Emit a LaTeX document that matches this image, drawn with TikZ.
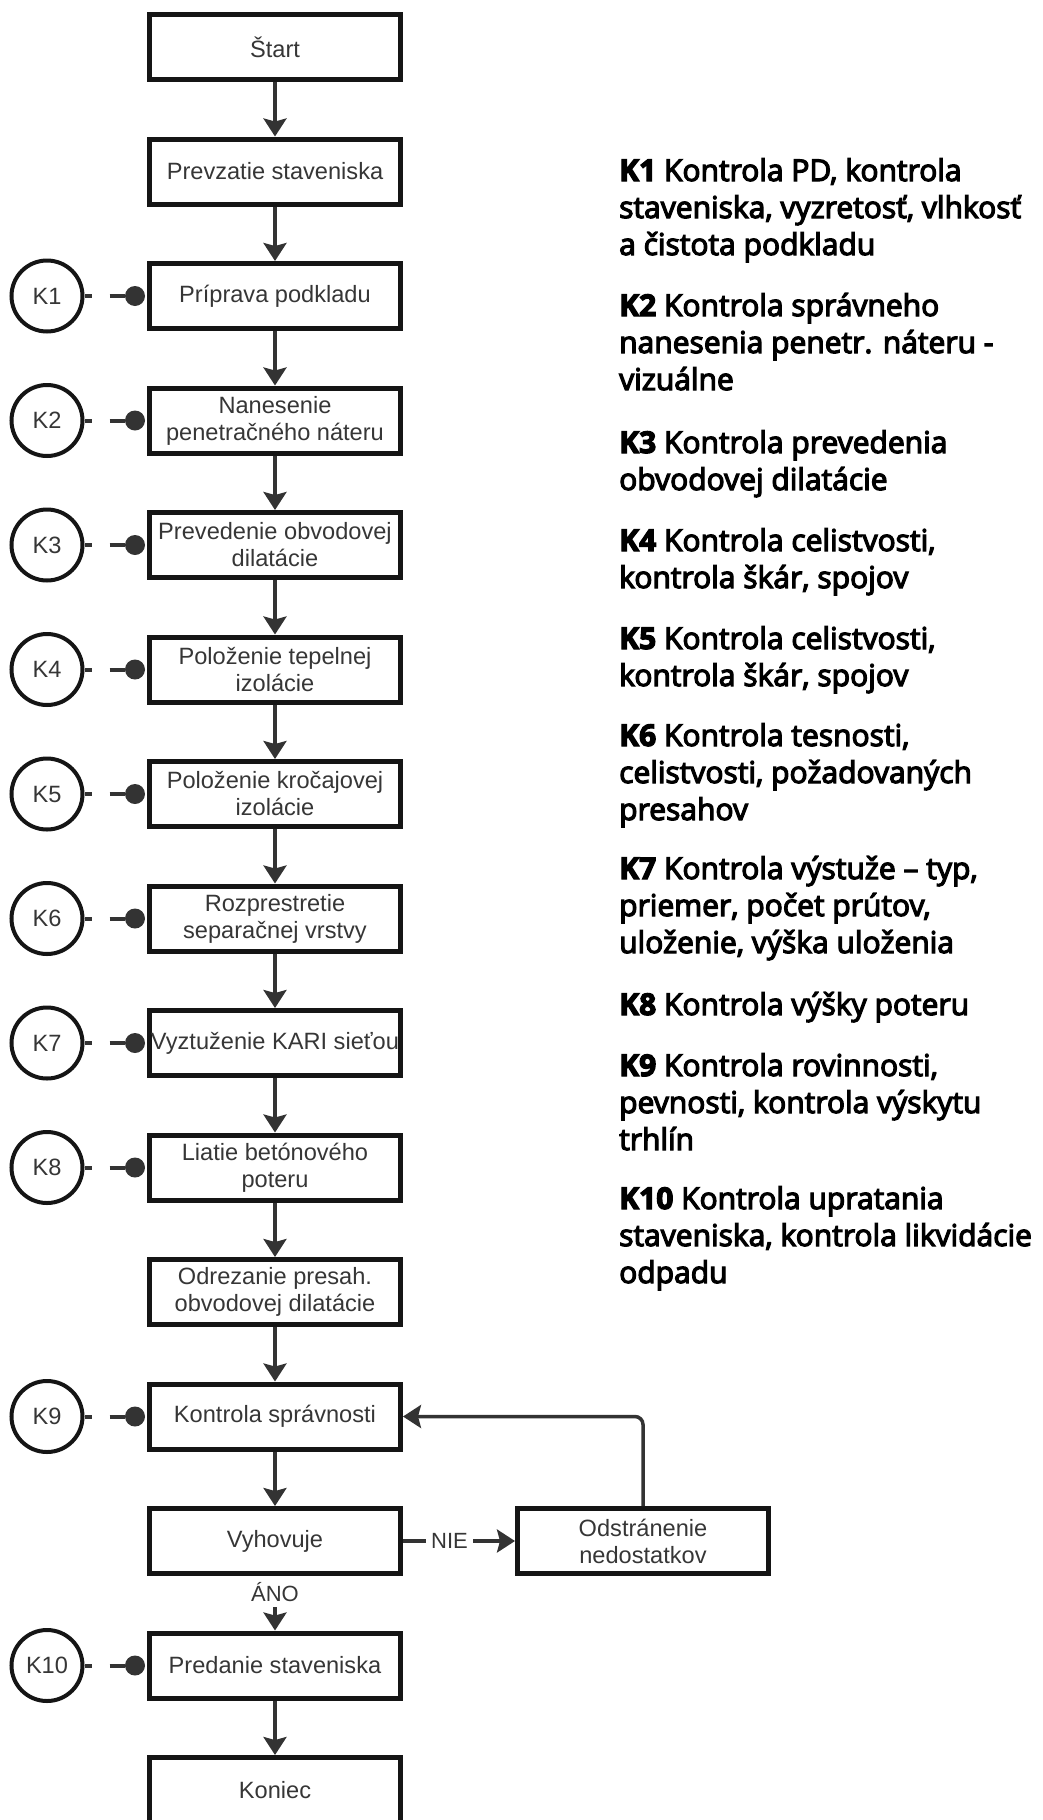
\documentclass[tikz,border=0pt]{standalone}
\usepackage{fontspec}
\setmainfont{Liberation Sans}
\newfontfamily\notefont{Open Sans}[RawFeature={embolden=4}]
\usetikzlibrary{arrows.meta}
\definecolor{linegray}{HTML}{333333}
\definecolor{textgray}{HTML}{363636}
\definecolor{edge}{HTML}{151515}

\begin{document}
\begin{tikzpicture}[x=1pt, y=-1pt,
    stepbox/.style={rectangle, draw=edge, line width=5pt, minimum width=251pt, minimum height=65pt,
        inner sep=0pt, align=center, text=textgray, font=\fontsize{23.6}{27}\selectfont},
    kcircle/.style={circle, draw=edge, line width=4pt, minimum size=71pt, inner sep=0pt,
        text=textgray, font=\fontsize{23.6}{27}\selectfont},
    kdot/.style={circle, fill=linegray, minimum size=20pt, inner sep=0pt},
    flow/.style={draw=linegray, line width=3.5pt, -{Stealth[length=18pt, width=23pt, inset=3pt]}},
    link/.style={draw=linegray, line width=4pt, dash pattern=on 7pt off 18pt on 80pt},
    answer/.style={fill=white, text=textgray, inner xsep=5pt, inner ysep=6pt, font=\fontsize{22}{24}\selectfont},
    note/.style={anchor=base west, inner sep=0pt, align=left, text=black, font=\notefont\fontsize{30}{37}\selectfont}]
\useasboundingbox (0,0) rectangle (1043,1820);

\node[stepbox] (start)       at (275,47)     {Štart};
\node[stepbox] (prevzatie)   at (275,171.5)  {Prevzatie staveniska};
\node[stepbox] (priprava)    at (275,296)    {Príprava podkladu};
\node[stepbox] (nanesenie)   at (275,420.5)  {Nanesenie\\penetračného náteru};
\node[stepbox] (prevedenie)  at (275,545)    {Prevedenie obvodovej\\dilatácie};
\node[stepbox] (tepelna)     at (275,669.5)  {Položenie tepelnej\\izolácie};
\node[stepbox] (krocajova)   at (275,794)    {Položenie kročajovej\\izolácie};
\node[stepbox] (separacna)   at (275,918.5)  {Rozprestretie\\separačnej vrstvy};
\node[stepbox] (kari)        at (275,1043)   {Vyztuženie KARI sieťou};
\node[stepbox] (poter)       at (275,1167.5) {Liatie betónového\\poteru};
\node[stepbox] (odrezanie)   at (275,1292)   {Odrezanie presah.\\obvodovej dilatácie};
\node[stepbox] (kontrola)    at (275,1416.5) {Kontrola správnosti};
\node[stepbox] (vyhovuje)    at (275,1541)   {Vyhovuje};
\node[stepbox] (predanie)    at (275,1665.5) {Predanie staveniska};
\node[stepbox] (koniec)      at (275,1790)   {Koniec};
\node[stepbox] (odstranenie) at (643,1541)   {Odstránenie\\nedostatkov};

% control points
\node[kcircle] (k1)  at (47,296)    {K1};
\node[kcircle] (k2)  at (47,420.5)  {K2};
\node[kcircle] (k3)  at (47,545)    {K3};
\node[kcircle] (k4)  at (47,669.5)  {K4};
\node[kcircle] (k5)  at (47,794)    {K5};
\node[kcircle] (k6)  at (47,918.5)  {K6};
\node[kcircle] (k7)  at (47,1043)   {K7};
\node[kcircle] (k8)  at (47,1167.5) {K8};
\node[kcircle] (k9)  at (47,1416.5) {K9};
\node[kcircle] (k10) at (47,1665.5) {K10};

\draw[flow] (start) -- (prevzatie);
\draw[flow] (prevzatie) -- (priprava);
\draw[flow] (priprava) -- (nanesenie);
\draw[flow] (nanesenie) -- (prevedenie);
\draw[flow] (prevedenie) -- (tepelna);
\draw[flow] (tepelna) -- (krocajova);
\draw[flow] (krocajova) -- (separacna);
\draw[flow] (separacna) -- (kari);
\draw[flow] (kari) -- (poter);
\draw[flow] (poter) -- (odrezanie);
\draw[flow] (odrezanie) -- (kontrola);
\draw[flow] (kontrola) -- (vyhovuje);
\draw[flow] (vyhovuje) -- (predanie) node[answer, pos=0.29] {ÁNO};
\draw[flow] (predanie) -- (koniec);
\draw[flow] (vyhovuje) -- (odstranenie) node[answer, pos=0.415, inner ysep=2pt] {NIE};
\draw[flow, rounded corners=8pt] (odstranenie.north) |- (kontrola.east);

\node[kdot] (d1)  at (135,296)    {};
\node[kdot] (d2)  at (135,420.5)  {};
\node[kdot] (d3)  at (135,545)    {};
\node[kdot] (d4)  at (135,669.5)  {};
\node[kdot] (d5)  at (135,794)    {};
\node[kdot] (d6)  at (135,918.5)  {};
\node[kdot] (d7)  at (135,1043)   {};
\node[kdot] (d8)  at (135,1167.5) {};
\node[kdot] (d9)  at (135,1416.5) {};
\node[kdot] (d10) at (135,1665.5) {};
\draw[link] (k1) -- (d1);
\draw[link] (k2) -- (d2);
\draw[link] (k3) -- (d3);
\draw[link] (k4) -- (d4);
\draw[link] (k5) -- (d5);
\draw[link] (k6) -- (d6);
\draw[link] (k7) -- (d7);
\draw[link] (k8) -- (d8);
\draw[link] (k9) -- (d9);
\draw[link] (k10) -- (d10);

% legend, placed by the baseline of its last line
\node[note] (n1)  at (619,255)  {\textbf{K1} Kontrola PD, kontrola\\staveniska, vyzretosť, vlhkosť\\a čistota podkladu};
\node[note] (n2)  at (619,390)  {\textbf{K2} Kontrola správneho\\nanesenia penetr. náteru -\\vizuálne};
\node[note] (n3)  at (619,490)  {\textbf{K3} Kontrola prevedenia\\obvodovej dilatácie};
\node[note] (n4)  at (619,588)  {\textbf{K4} Kontrola celistvosti,\\kontrola škár, spojov};
\node[note] (n5)  at (619,686)  {\textbf{K5} Kontrola celistvosti,\\kontrola škár, spojov};
\node[note] (n6)  at (619,820)  {\textbf{K6} Kontrola tesnosti,\\celistvosti, požadovaných\\presahov};
\node[note] (n7)  at (619,953)  {\textbf{K7} Kontrola výstuže – typ,\\priemer, počet prútov,\\uloženie, výška uloženia};
\node[note] (n8)  at (619,1015) {\textbf{K8} Kontrola výšky poteru};
\node[note] (n9)  at (619,1150) {\textbf{K9} Kontrola rovinnosti,\\pevnosti, kontrola výskytu\\trhlín};
\node[note] (n10) at (619,1283) {\textbf{K10} Kontrola upratania\\staveniska, kontrola likvidácie\\odpadu};
\end{tikzpicture}
\end{document}
